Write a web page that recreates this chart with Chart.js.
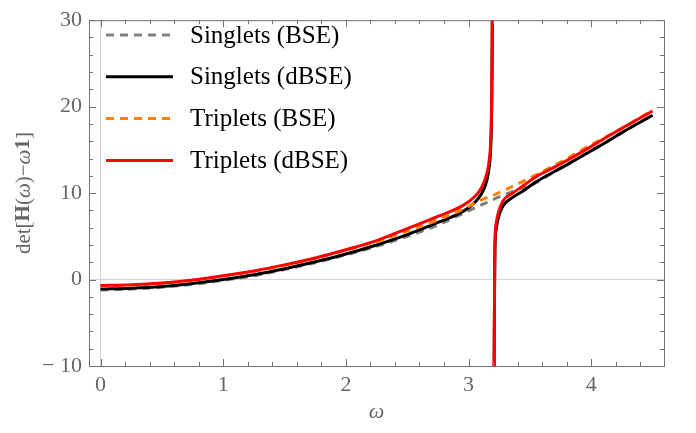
<!DOCTYPE html>
<html lang="en">

<head>
  <meta charset="UTF-8">
  <title>det[H(ω)−ω1]</title>
  <style>
    body {
      margin: 0;
      background: #fff;
    }

    #chart-container {
      width: 696px;
      height: 433px;
    }
  </style>
</head>

<body>

  <div id="chart-container">
    <canvas id="detChart"></canvas>
  </div>

  <script src="https://cdn.jsdelivr.net/npm/chart.js@4.4.0/dist/chart.umd.min.js"></script>
  <script>
    // smooth BSE curves
    const omegaBSE = [0, 0.25, 0.5, 0.75, 1, 1.25, 1.5, 1.75, 2, 2.25, 2.5, 2.75, 3, 3.1, 3.2, 3.3, 3.4, 3.5, 3.75, 4, 4.25, 4.5];
    const singletsBSE = [-1.2, -1.1, -0.9, -0.55, -0.1, 0.45, 1.15, 1.95, 2.85, 3.85, 5.0, 6.3, 7.95, 8.6, 9.25, 9.85, 10.4, 10.85, 12.9, 14.9, 17.0, 19.05];
    const tripletsBSE = [-0.75, -0.65, -0.45, -0.1, 0.4, 0.95, 1.65, 2.45, 3.4, 4.4, 5.6, 6.9, 8.45, 9.2, 9.75, 10.4, 11.05, 11.75, 13.6, 15.6, 17.5, 19.6];

    // dBSE curves, branch below the pole
    const omegaLeft = [0, 0.25, 0.5, 0.75, 1, 1.25, 1.5, 1.75, 2, 2.25, 2.5, 2.75, 3, 3.1, 3.15, 3.17, 3.18, 3.187, 3.193, 3.196];
    const singletsLeft = [-1.1, -1.0, -0.8, -0.45, 0.0, 0.55, 1.25, 2.05, 2.95, 4.0, 5.2, 6.6, 8.3, 9.8, 11.5, 13.2, 15, 18.5, 28, 45];
    const tripletsLeft = [-0.68, -0.6, -0.4, -0.05, 0.45, 1.0, 1.7, 2.5, 3.45, 4.5, 5.9, 7.3, 9.0, 10.5, 12.3, 14, 16, 20, 30, 45];

    // dBSE curves, branch above the pole
    const omegaRight = [3.203, 3.206, 3.209, 3.212, 3.215, 3.225, 3.24, 3.28, 3.36, 3.45, 3.55, 3.7, 3.83, 4, 4.1, 4.25, 4.5];
    const singletsRight = [-45, -20, -8, -1, 3.5, 5.8, 7.0, 8.5, 9.5, 10.3, 11.3, 12.5, 13.5, 14.9, 15.7, 17.0, 19.0];
    const tripletsRight = [-45, -20, -8, 0, 4.5, 6.5, 7.6, 9.1, 10.0, 10.9, 11.9, 13.0, 14.0, 15.4, 16.25, 17.5, 19.5];

    const xTicks = [0, 1, 2, 3, 4];
    const yTicks = [-10, 0, 10, 20, 30];

    const serif = '"Liberation Serif", "Times New Roman", Times, serif';
    const frameColor = '#707070';
    const labelColor = '#666666';

    function pairs(xs, ys) {
      return xs.map((x, i) => ({ x: x, y: ys[i] }));
    }

    function branches(left, right) {
      return pairs(omegaLeft, left).concat([{ x: 3.2, y: null }], pairs(omegaRight, right));
    }

    const series = [
      { label: 'Singlets (BSE)', data: pairs(omegaBSE, singletsBSE), color: '#808080', dash: [8, 6], order: 4 },
      { label: 'Singlets (dBSE)', data: branches(singletsLeft, singletsRight), color: '#000000', dash: [], order: 3 },
      { label: 'Triplets (BSE)', data: pairs(omegaBSE, tripletsBSE), color: '#ff8000', dash: [8, 6], order: 2 },
      { label: 'Triplets (dBSE)', data: branches(tripletsLeft, tripletsRight), color: '#ff0000', dash: [], order: 1 }
    ];

    // frame with inward ticks, legend and axis titles
    const framePlugin = {
      id: 'frame',
      afterDraw(chart) {
        const { ctx, chartArea: a, scales } = chart;
        const xs = scales.x, ys = scales.y;
        ctx.save();
        ctx.strokeStyle = frameColor;
        ctx.lineWidth = 1;
        ctx.strokeRect(a.left + 0.5, a.top + 0.5, a.right - a.left, a.bottom - a.top);

        ctx.beginPath();
        for (let i = 0; i <= 22; i++) {
          const v = i * 0.2;
          const px = Math.round(xs.getPixelForValue(v)) + 0.5;
          const len = i % 5 === 0 ? 7 : 4;
          ctx.moveTo(px, a.bottom); ctx.lineTo(px, a.bottom - len);
          ctx.moveTo(px, a.top); ctx.lineTo(px, a.top + len);
        }
        for (let v = -10; v <= 30; v += 2) {
          const py = Math.round(ys.getPixelForValue(v)) + 0.5;
          const len = v % 10 === 0 ? 7 : 4;
          ctx.moveTo(a.left, py); ctx.lineTo(a.left + len, py);
          ctx.moveTo(a.right, py); ctx.lineTo(a.right - len, py);
        }
        ctx.stroke();

        // legend
        ctx.font = '25px ' + serif;
        ctx.textBaseline = 'middle';
        series.forEach((s, i) => {
          const y = 35 + i * 41.8;
          ctx.beginPath();
          ctx.strokeStyle = s.color;
          ctx.lineWidth = 3;
          ctx.setLineDash(s.dash);
          ctx.moveTo(106, y);
          ctx.lineTo(173, y);
          ctx.stroke();
          ctx.setLineDash([]);
          ctx.fillStyle = '#000';
          ctx.fillText(s.label, 190, y + 1);
        });

        // x title
        ctx.fillStyle = labelColor;
        ctx.textAlign = 'center';
        ctx.font = 'italic 22px ' + serif;
        ctx.fillText('ω', (a.left + a.right) / 2, 412);

        // y title with mixed styles
        const parts = [
          ['det', ''], ['[', ''], ['H', 'bold '], ['(', ''], ['ω', 'italic '], [')−', ''], ['ω', 'italic '], ['1', 'bold '], [']', '']
        ];
        let total = 0;
        parts.forEach(p => { ctx.font = p[1] + '21px ' + serif; total += ctx.measureText(p[0]).width; });
        ctx.translate(24, (a.top + a.bottom) / 2);
        ctx.rotate(-Math.PI / 2);
        ctx.textAlign = 'left';
        let x = -total / 2;
        parts.forEach(p => {
          ctx.font = p[1] + '21px ' + serif;
          ctx.fillText(p[0], x, 0);
          x += ctx.measureText(p[0]).width;
        });
        ctx.restore();
      }
    };

    const ctx = document.getElementById('detChart').getContext('2d');
    const detChart = new Chart(ctx, {
      type: 'scatter',
      data: {
        datasets: series.map(s => ({
          label: s.label,
          data: s.data,
          showLine: true,
          borderColor: s.color,
          backgroundColor: s.color,
          borderWidth: 3,
          borderDash: s.dash,
          pointRadius: 0,
          cubicInterpolationMode: 'monotone',
          spanGaps: false,
          order: s.order
        }))
      },
      options: {
        responsive: true,
        maintainAspectRatio: false,
        animation: false,
        layout: { padding: { top: 12, right: 32, left: 0, bottom: 0 } },
        plugins: {
          legend: { display: false },
          tooltip: { enabled: false }
        },
        scales: {
          x: {
            type: 'linear',
            min: -0.094,
            max: 4.593,
            afterFit(scale) { scale.height = 67; },
            afterBuildTicks(scale) { scale.ticks = xTicks.map(v => ({ value: v })); },
            border: { display: false },
            grid: {
              drawTicks: false,
              color: c => (c.tick && c.tick.value === 0 ? '#d4d4d4' : 'rgba(0,0,0,0)')
            },
            ticks: {
              padding: 6,
              color: labelColor,
              font: { family: serif, size: 22 }
            }
          },
          y: {
            type: 'linear',
            min: -10,
            max: 30,
            afterFit(scale) { scale.width = 89; },
            afterBuildTicks(scale) { scale.ticks = yTicks.map(v => ({ value: v })); },
            border: { display: false },
            grid: {
              drawTicks: false,
              color: c => (c.tick && c.tick.value === 0 ? '#d4d4d4' : 'rgba(0,0,0,0)')
            },
            ticks: {
              padding: 7,
              color: labelColor,
              font: { family: serif, size: 22 },
              callback: v => (v < 0 ? '− ' + Math.abs(v) : String(v))
            }
          }
        }
      },
      plugins: [framePlugin]
    });
  </script>
</body>

</html>
